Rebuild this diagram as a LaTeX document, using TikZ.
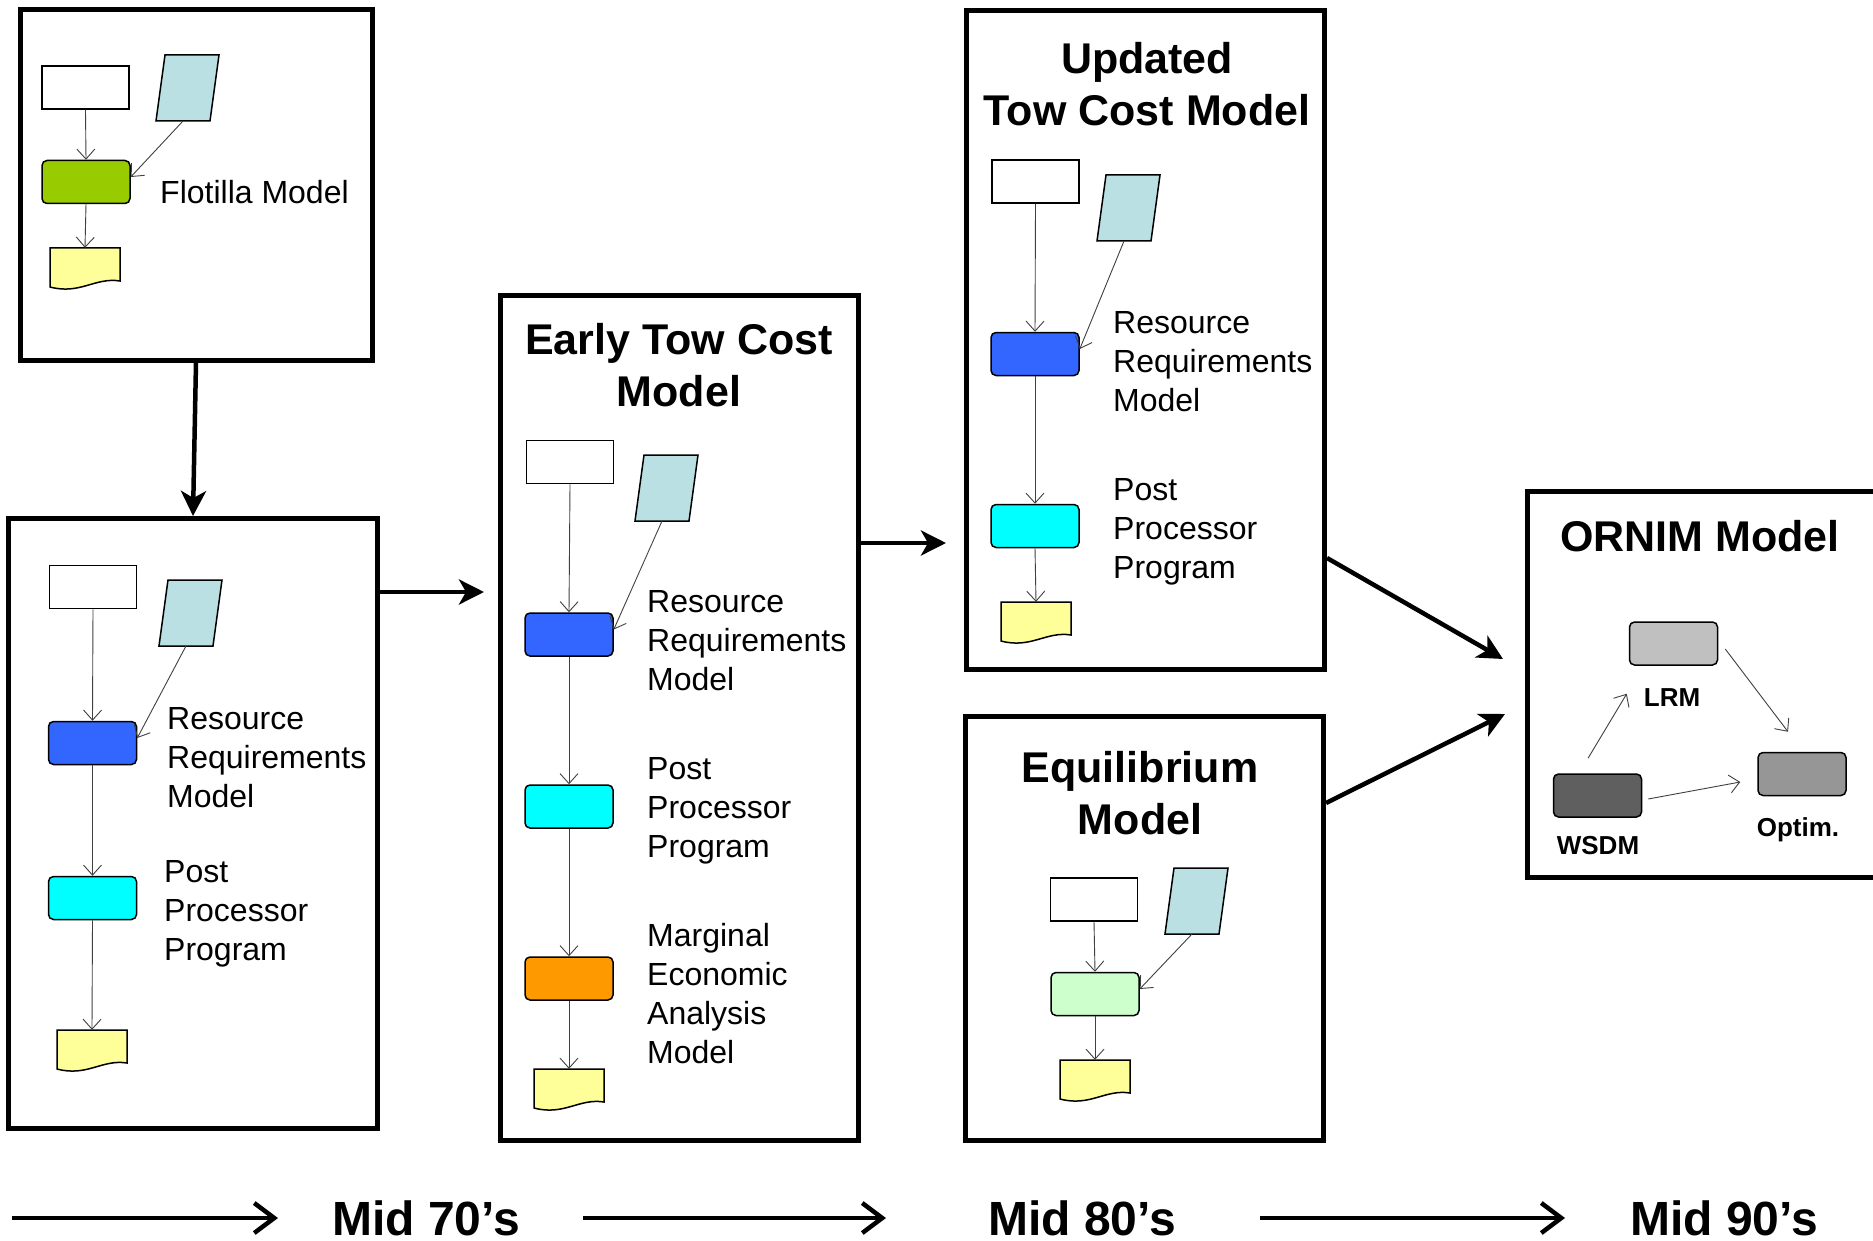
\documentclass[tikz,border=0pt]{standalone}
\usepackage{fontspec}
\setmainfont{Liberation Sans}
\usetikzlibrary{arrows.meta,calc}

\definecolor{paracol}{HTML}{BAE0E3}
\definecolor{docyellow}{HTML}{FFFF99}
\definecolor{flotgreen}{HTML}{99CC00}
\definecolor{rrmblue}{HTML}{3366FF}
\definecolor{ppcyan}{HTML}{00FFFF}
\definecolor{meaorange}{HTML}{FF9900}
\definecolor{eqgreen}{HTML}{CCFFCC}
\definecolor{lrmgray}{HTML}{C0C0C0}
\definecolor{wsdmgray}{HTML}{5F5F5F}
\definecolor{optgray}{HTML}{969696}
\definecolor{thinline}{HTML}{404040}

% slanted data symbol: name, bottom-left x, bottom y
\newcommand\dataslant[3]{%
  \node[draw=none, inner sep=0, minimum width=63pt, minimum height=66pt] (#1) at (#2+31.5,#3-33) {};
  \coordinate (#1b) at (#2+27,#3);
  \draw[slantshape] (#2,#3) -- ++(54,0) -- ++(9,-66) -- ++(-54,0) -- cycle;
}
% document symbol with wavy bottom: name, left x, top y
\newcommand\docsheet[3]{%
  \node[draw=none, inner sep=0, minimum width=70pt, minimum height=40pt] (#1) at (#2+35,#3+20) {};
  \draw[sheetshape] (#2,#3) -- ++(70,0) -- ++(0,33)
    .. controls ++(-25,-4) and ++(30,8) .. (#2,#3+39) -- cycle;
}

\begin{document}
\begin{tikzpicture}[x=1pt, y=-1pt,
  frame/.style={draw, line width=5pt, inner sep=0},
  termbox/.style={draw, fill=white, line width=1.5pt, inner sep=0,
    minimum width=87pt, minimum height=43pt},
  procbox/.style={draw, line width=1.5pt, rounded corners=5pt, inner sep=0,
    minimum width=88pt, minimum height=43pt},
  slantshape/.style={draw, fill=paracol, line width=1.5pt, line join=miter},
  sheetshape/.style={draw, fill=docyellow, line width=1.5pt},
  thinflow/.style={draw=thinline, line width=0.9pt,
    -{Straight Barb[length=10pt,width=18pt,line width=0.9pt]}},
  bigflow/.style={line width=4.5pt,
    -{Stealth[length=25pt,width=25pt,inset=7pt]}},
  timeflow/.style={line width=4.5pt,
    -{Straight Barb[length=20pt,width=30pt,line width=4.5pt]}},
  label/.style={anchor=west, align=left, inner sep=0,
    font=\fontsize{32}{39}\selectfont},
  title/.style={align=center, inner sep=0,
    font=\fontsize{43}{52}\selectfont\bfseries},
  small/.style={inner sep=0, font=\fontsize{26}{31}\selectfont\bfseries},
  era/.style={inner sep=0, font=\fontsize{48}{56}\selectfont\bfseries}
]
\useasboundingbox (0,0) rectangle (1873,1241);
\fill[white] (0,0) rectangle (1873,1241);
\clip (0,0) rectangle (1873,1241);

% ---------- outer frames ----------
\node[frame, minimum width=352pt, minimum height=350pt] (box1) at (196,185) {};
\node[frame, minimum width=369pt, minimum height=610pt] (box2) at (193,823.5) {};
\node[frame, minimum width=358pt, minimum height=845pt] (box3) at (679.5,718) {};
\node[frame, minimum width=358pt, minimum height=659pt] (box4) at (1145.5,340) {};
\node[frame, minimum width=358pt, minimum height=424pt] (box5) at (1144.5,928.5) {};
\node[frame, minimum width=356pt, minimum height=386pt] (box6) at (1705,684.5) {};

% ---------- Flotilla Model ----------
\node[termbox] (w1) at (85.5,87.5) {};
\dataslant{p1}{156}{121}
\node[procbox, fill=flotgreen] (g1) at (86,182) {};
\docsheet{d1}{50}{248}
\draw[thinflow] (w1.south) -- (g1.north);
\draw[thinflow] (p1b) -- ([yshift=5pt]g1.east);
\draw[thinflow] (g1.south) -- (d1.north);
\node[label] (l1) at (160,192) {Flotilla Model};

% ---------- Resource Requirements (70's) ----------
\node[termbox] (w2) at (93,587) {};
\dataslant{p2}{159}{646}
\node[procbox, fill=rrmblue] (b2) at (92.5,743) {};
\node[procbox, fill=ppcyan] (c2) at (92.5,898) {};
\docsheet{d2}{57}{1030}
\draw[thinflow] (w2.south) -- (b2.north);
\draw[thinflow] (p2b) -- ([yshift=5pt]b2.east);
\draw[thinflow] (b2.south) -- (c2.north);
\draw[thinflow] (c2.south) -- (d2.north);
\node[label] (l2a) at (167,758) {Resource\\Requirements\\Model};
\node[label] (l2b) at (164,914) {Post\\Processor\\Program};

% ---------- Early Tow Cost Model ----------
\node[title] (t3) at (679,365) {Early Tow Cost\\Model};
\node[termbox] (w3) at (570,462) {};
\dataslant{p3}{635}{521}
\node[procbox, fill=rrmblue] (b3) at (569,634.5) {};
\node[procbox, fill=ppcyan] (c3) at (569,806.5) {};
\node[procbox, fill=meaorange] (o3) at (569,978.5) {};
\docsheet{d3}{534}{1069}
\draw[thinflow] (w3.south) -- (b3.north);
\draw[thinflow] (p3b) -- ([yshift=5pt]b3.east);
\draw[thinflow] (b3.south) -- (c3.north);
\draw[thinflow] (c3.south) -- (o3.north);
\draw[thinflow] (o3.south) -- (d3.north);
\node[label] (l3a) at (647,641) {Resource\\Requirements\\Model};
\node[label] (l3b) at (647,811) {Post\\Processor\\Program};
\node[label] (l3c) at (647,994) {Marginal\\Economic\\Analysis\\Model};

% ---------- Updated Tow Cost Model ----------
\node[title] (t4) at (1147,84.5) {Updated\\Tow Cost Model};
\node[termbox] (w4) at (1035.5,181.5) {};
\dataslant{p4}{1097}{241}
\node[procbox, fill=rrmblue] (b4) at (1035,354) {};
\node[procbox, fill=ppcyan] (c4) at (1035,526) {};
\docsheet{d4}{1001}{602}
\draw[thinflow] (w4.south) -- (b4.north);
\draw[thinflow] (p4b) -- ([yshift=5pt]b4.east);
\draw[thinflow] (b4.south) -- (c4.north);
\draw[thinflow] (c4.south) -- (d4.north);
\node[label] (l4a) at (1113,362) {Resource\\Requirements\\Model};
\node[label] (l4b) at (1113,532) {Post\\Processor\\Program};

% ---------- Equilibrium Model ----------
\node[title] (t5) at (1140,793.5) {Equilibrium\\Model};
\node[termbox] (w5) at (1094,899.5) {};
\dataslant{p5}{1165}{934}
\node[procbox, fill=eqgreen] (e5) at (1095,994) {};
\docsheet{d5}{1060}{1060}
\draw[thinflow] (w5.south) -- (e5.north);
\draw[thinflow] (p5b) -- ([yshift=5pt]e5.east);
\draw[thinflow] (e5.south) -- (d5.north);

% ---------- ORNIM Model ----------
\node[title] (t6) at (1700,536) {ORNIM Model};
\node[procbox, fill=lrmgray] (lrm) at (1673.5,643.5) {};
\node[procbox, fill=wsdmgray] (wsdm) at (1597.5,795.5) {};
\node[procbox, fill=optgray] (opt) at (1802,774) {};
\node[small] (lrmt) at (1672,698) {LRM};
\node[small] (wsdmt) at (1598,846) {WSDM};
\node[small] (optt) at (1798,830) {Optim.};
\draw[thinflow] ($(wsdm.north)+(-9.5,-15)$) -- ($(lrm.south west)+(-2,28)$);
\draw[thinflow] ($(lrm.east)+(7,5.5)$) -- ($(opt.north)+(-14,-20)$);
\draw[thinflow] ($(wsdm.east)+(6,3.5)$) -- ($(opt.west)+(-17,8)$);

% ---------- connectors between models ----------
\coordinate (e23) at (484,592);
\coordinate (e34) at (946,543);
\coordinate (e46) at (1503,659);
\coordinate (e56) at (1505,714);
\draw[bigflow] (box1.south) -- (box2.north);
\draw[bigflow] (box2.east |- e23) -- (e23);
\draw[bigflow] (box3.east |- e34) -- (e34);
\draw[bigflow] (box4.east |- 0,558) -- (e46);
\draw[bigflow] (box5.east |- 0,803) -- (e56);

% ---------- time line ----------
\node[era] (m70) at (426,1218) {Mid 70’s};
\node[era] (m80) at (1082,1218) {Mid 80’s};
\node[era] (m90) at (1724,1218) {Mid 90’s};
\coordinate (a1) at (12,1218);  \coordinate (a1e) at (278,1218);
\coordinate (a2) at (583,1218); \coordinate (a2e) at (886,1218);
\coordinate (a3) at (1260,1218);\coordinate (a3e) at (1565,1218);
\draw[timeflow] (a1) -- (a1e);
\draw[timeflow] (a2) -- (a2e);
\draw[timeflow] (a3) -- (a3e);
\end{tikzpicture}
\end{document}
